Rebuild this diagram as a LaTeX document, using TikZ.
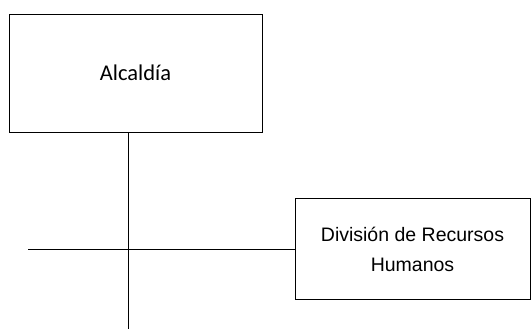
\documentclass[tikz,border=0pt]{standalone}
\usepackage{fontspec}
\newfontfamily\boxfontA{Carlito}
\newfontfamily\boxfontB{Liberation Sans}
\usepackage{tikz}
\usetikzlibrary{positioning}
\tikzset{
x=1pt, y=-1pt, % one unit is one pixel of the reference
line width=1pt, % thin black lines everywhere
unitbox/.style={draw, rectangle, inner sep=0pt, align=center}, % the boxes of the chart
}

\begin{document}
\begin{tikzpicture}
    \useasboundingbox (0,0) rectangle (531,329);
    \node[unitbox, minimum width=253pt, minimum height=118pt,
          font={\boxfontA\fontsize{22.5}{27}\selectfont}] (alc) at (135.5,73) {Alcald\'{\i}a};
    \node[unitbox, minimum width=235pt, minimum height=101pt,
          font={\boxfontB\fontsize{19.5}{30}\selectfont}] (rrhh) at (412.5,249) {Divisi\'on de Recursos\\Humanos};
    \coordinate (bot) at (128,329);
    \coordinate (lft) at (28,249);
    \draw (bot |- alc.south) -- (bot);
    \draw (lft) -- (lft -| rrhh.west);
\end{tikzpicture}
\end{document}
